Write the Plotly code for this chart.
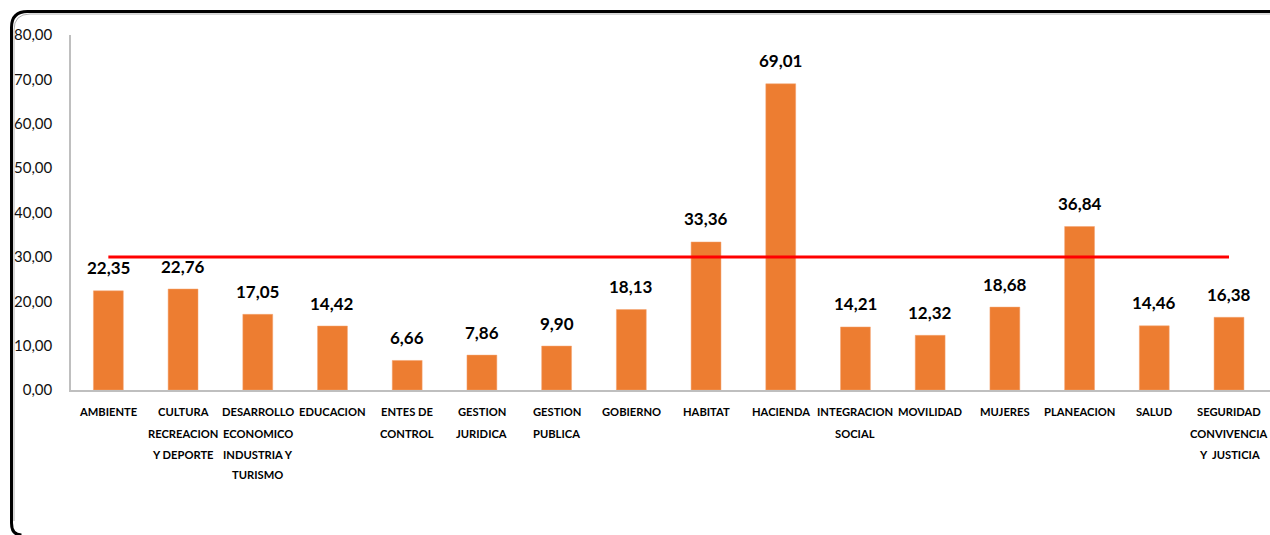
import plotly.graph_objects as go

# Sector names (one list entry per label line) and their values
categories = [
    "AMBIENTE", "CULTURA", "DESARROLLO", "EDUCACION", "ENTES DE",
    "GESTION J", "GESTION P", "GOBIERNO", "HABITAT", "HACIENDA",
    "INTEGRACION", "MOVILIDAD", "MUJERES", "PLANEACION", "SALUD", "SEGURIDAD",
]
category_lines = [
    ["AMBIENTE"],
    ["CULTURA", "RECREACION", "Y DEPORTE"],
    ["DESARROLLO", "ECONOMICO", "INDUSTRIA Y", "TURISMO"],
    ["EDUCACION"],
    ["ENTES DE", "CONTROL"],
    ["GESTION", "JURIDICA"],
    ["GESTION", "PUBLICA"],
    ["GOBIERNO"],
    ["HABITAT"],
    ["HACIENDA"],
    ["INTEGRACION", "SOCIAL"],
    ["MOVILIDAD"],
    ["MUJERES"],
    ["PLANEACION"],
    ["SALUD"],
    ["SEGURIDAD", "CONVIVENCIA", "Y\u00a0\u00a0JUSTICIA"],
]
values = [22.35, 22.76, 17.05, 14.42, 6.66, 7.86, 9.90, 18.13,
          33.36, 69.01, 14.21, 12.32, 18.68, 36.84, 14.46, 16.38]
threshold = [30.0] * len(categories)
y_ticks = [0, 10, 20, 30, 40, 50, 60, 70, 80]

W, H = 1270, 535
L, R, T, B = 71, 0, 35, 145
pw, ph = W - L - R, H - T - B

def px(x):
    return (x - L) / pw

def py(y):
    return (H - B - y) / ph

FONT = "Lato, Roboto, sans-serif"

fig = go.Figure()
fig.add_trace(go.Bar(
    x=categories, y=values,
    marker=dict(color="#ED7D31", line=dict(color="#F4A572", width=0.5)),
    hoverinfo="skip",
))
fig.add_trace(go.Scatter(
    x=categories, y=threshold, mode="lines",
    line=dict(color="#FF0000", width=3), hoverinfo="skip",
))

# Value labels above each bar
for cat, val in zip(categories, values):
    fig.add_annotation(
        x=cat, y=val, xref="x", yref="y", yanchor="middle",
        text=f"{val:.2f}".replace(".", ","), showarrow=False, yshift=23,
        font=dict(family=FONT, size=17, color="#000000", weight="bold"),
    )

# Multi-line category labels under the axis
line_gap = 21
for cat, lines in zip(categories, category_lines):
    for i, txt in enumerate(lines):
        fig.add_annotation(
            x=cat, y=py(412 + i * line_gap), xref="x", yref="paper",
            yanchor="middle", text=txt, showarrow=False,
            font=dict(family=FONT, size=11.2, color="#000000", weight="bold"),
        )

# Rounded chart frame, kept inside the canvas
r = 16
x0, y0, x1, y1 = 11.5, 11.5, 1270, 535
path = (f"M {px(x1)},{py(y0)} L {px(x0 + r)},{py(y0)} "
        f"Q {px(x0)},{py(y0)} {px(x0)},{py(y0 + r)} "
        f"L {px(x0)},{py(y1 - 12)} Q {px(x0)},{py(y1)} {px(x0 + 10)},{py(y1)}")
fig.add_shape(type="path", xref="paper", yref="paper", path=path,
              line=dict(color="#000000", width=3), layer="above")
x0b, y0b = 14, 14
path2 = (f"M {px(x1)},{py(y0b)} L {px(x0b + r)},{py(y0b)} "
         f"Q {px(x0b)},{py(y0b)} {px(x0b)},{py(y0b + r)} "
         f"L {px(x0b)},{py(y1 - 14)}")
fig.add_shape(type="path", xref="paper", yref="paper", path=path2,
              line=dict(color="#B0B0B0", width=1), layer="above")

fig.update_layout(
    width=W, height=H,
    margin=dict(l=L, r=R, t=T, b=B, autoexpand=False),
    paper_bgcolor="white", plot_bgcolor="white",
    separators=",.",
    showlegend=False,
    bargap=0.6,
    xaxis=dict(
        showgrid=False, showline=True, linecolor="#BFBFBF", linewidth=1.5,
        showticklabels=False, automargin=False,
    ),
    yaxis=dict(
        range=[0, 80], tickvals=y_ticks, tickformat=".2f",
        showgrid=False, zeroline=False, automargin=False,
        showline=True, linecolor="#BFBFBF", linewidth=1.5,
        tickfont=dict(family=FONT, size=15, color="#111111"),
        ticks="outside", ticklen=14, tickcolor="rgba(0,0,0,0)",
    ),
)

fig.write_html("out.html")
